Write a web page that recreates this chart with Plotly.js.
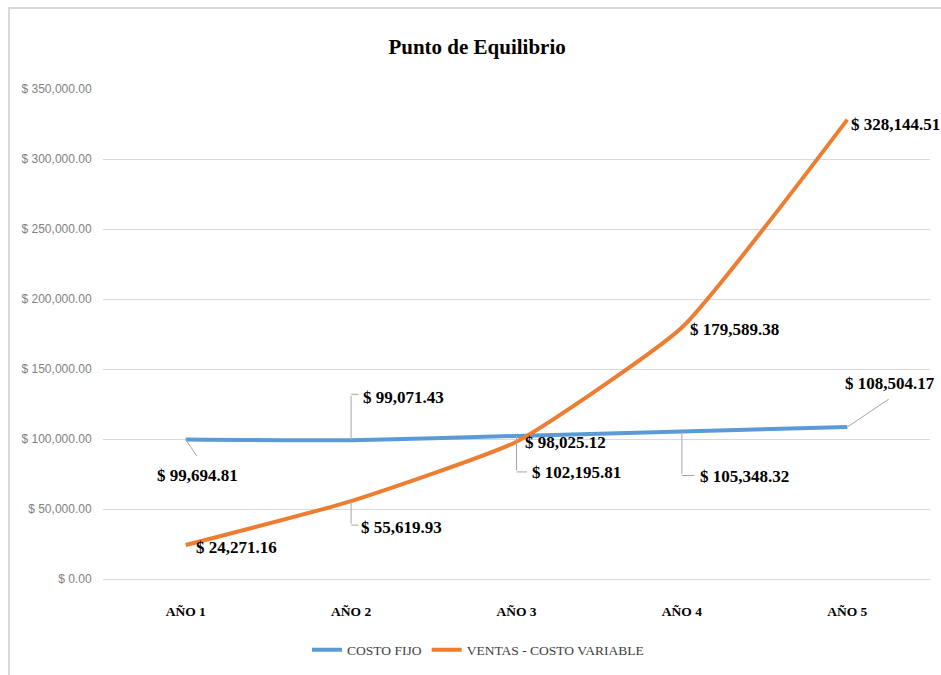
<!DOCTYPE html>
<html>
<head>
<meta charset="utf-8">
<script src="https://cdn.plot.ly/plotly-3.0.1.min.js"></script>
<style>
  html, body { margin: 0; padding: 0; background: #ffffff; }
  #wrap { position: relative; width: 941px; height: 675px; }
  #chart { width: 941px; height: 675px; }
  #frame { position: absolute; left: 8px; top: 7px; width: 933px; height: 668px;
           border-top: 2px solid #d9d9d9; border-left: 2px solid #d9d9d9;
           box-sizing: border-box; pointer-events: none; }
</style>
</head>
<body>
<div id="wrap">
  <div id="chart"></div>
  <div id="frame"></div>
</div>
<script>
// ---- data ----
const categories = ['AÑO 1', 'AÑO 2', 'AÑO 3', 'AÑO 4', 'AÑO 5'];
const costoFijo = [99694.81, 99071.43, 102195.81, 105348.32, 108504.17];
const ventasMenosCV = [24271.16, 55619.93, 98025.12, 179589.38, 328144.51];
const seriesNames = ['COSTO FIJO', 'VENTAS - COSTO VARIABLE'];
const titleText = 'Punto de Equilibrio';

const BLUE = '#5B9BD5';
const ORANGE = '#ED7D31';
const SERIF = '"Liberation Serif", "Times New Roman", serif';
const LEADER = '#a6a6a6';

function money(v) {
  return '$ ' + v.toLocaleString('en-US', {minimumFractionDigits: 2, maximumFractionDigits: 2});
}

const traces = [
  {
    x: categories, y: costoFijo, name: seriesNames[0], type: 'scatter', mode: 'lines',
    line: {color: BLUE, width: 4, shape: 'spline', smoothing: 0.45}, hoverinfo: 'x+y'
  },
  {
    x: categories, y: ventasMenosCV, name: seriesNames[1], type: 'scatter', mode: 'lines',
    line: {color: ORANGE, width: 4, shape: 'spline', smoothing: 0.45}, hoverinfo: 'x+y'
  }
];

// label placement (pixel offsets from each point): [xshift, yshift]
const blueLabelOff = [[12, -36], [52, 43], [60, -37], [63, -45], [43, 44]];
const orangeLabelOff = [[51, -2], [50, -26], [49, -1], [53, -2], [48, -5]];

const annotations = [];
function addLabel(i, val, off) {
  annotations.push({
    x: categories[i], y: val, xref: 'x', yref: 'y', text: money(val),
    showarrow: false, xanchor: 'center', yanchor: 'middle',
    xshift: off[0], yshift: off[1],
    font: {family: SERIF, size: 17, color: '#000000', weight: 'bold'}
  });
}
costoFijo.forEach((v, i) => addLabel(i, v, blueLabelOff[i]));
ventasMenosCV.forEach((v, i) => addLabel(i, v, orangeLabelOff[i]));

// leader lines
function leader(i, val, ax, ay, yshift) {
  annotations.push({
    x: categories[i], y: val, xref: 'x', yref: 'y', text: '',
    showarrow: true, arrowhead: 0, arrowwidth: 1, arrowcolor: LEADER,
    ax: ax, ay: ay, standoff: 0, startstandoff: 0, yshift: yshift || 0
  });
}
// diagonal leaders
leader(0, costoFijo[0], 12, 18);
leader(4, costoFijo[4], 43, -29);
// elbow leaders: vertical + short horizontal stub
function elbow(i, val, len, stub) {
  leader(i, val, 0, len, 0);
  leader(i, val, stub, 0, -len);
}
elbow(1, costoFijo[1], -46, 9);
elbow(2, costoFijo[2], 36, 12);
elbow(3, costoFijo[3], 44, 14);
elbow(1, ventasMenosCV[1], 24, 9);

const layout = {
  width: 941, height: 675,
  paper_bgcolor: '#ffffff', plot_bgcolor: '#ffffff',
  margin: {l: 103, r: 11, t: 89, b: 96},
  title: {
    text: titleText, x: 0.507, xanchor: 'center', xref: 'container',
    y: 1 - 47 / 675, yanchor: 'middle', yref: 'container',
    font: {family: SERIF, size: 21, color: '#000000', weight: 'bold'}
  },
  xaxis: {
    type: 'category', range: [-0.5, 4.5], showgrid: false, zeroline: false, showline: false,
    ticks: 'outside', ticklen: 20, tickcolor: 'rgba(0,0,0,0)',
    tickfont: {family: SERIF, size: 13.5, color: '#000000', weight: 'bold'},
    fixedrange: true
  },
  yaxis: {
    range: [0, 350000], dtick: 50000, tick0: 0,
    tickprefix: '$ ', tickformat: ',.2f',
    showgrid: true, gridcolor: '#d9d9d9', gridwidth: 1,
    zeroline: true, zerolinecolor: '#d9d9d9', zerolinewidth: 1, showline: false,
    ticks: 'outside', ticklen: 8, tickcolor: 'rgba(0,0,0,0)',
    tickfont: {family: '"Liberation Sans", Arial, sans-serif', size: 12, color: '#808080'},
    fixedrange: true
  },
  showlegend: true,
  legend: {
    orientation: 'h', xref: 'container', yref: 'container',
    x: 0.508, xanchor: 'center', y: 1 - 650 / 675, yanchor: 'middle',
    font: {family: SERIF, size: 13.5, color: '#404040'},
    itemwidth: 30, tracegroupgap: 0, bgcolor: 'rgba(0,0,0,0)'
  },
  annotations: annotations,
  hovermode: false
};

Plotly.newPlot('chart', traces, layout, {displayModeBar: false, staticPlot: true});
</script>
</body>
</html>
